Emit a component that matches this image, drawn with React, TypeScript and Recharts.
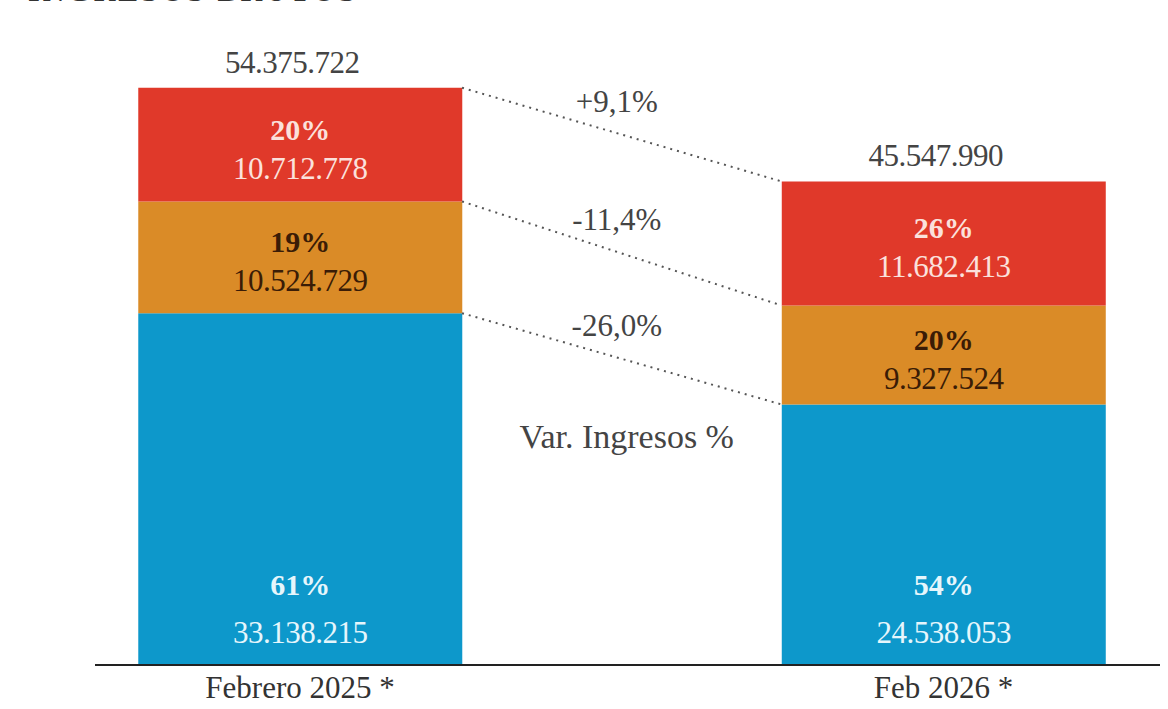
import { BarChart, Bar, XAxis, YAxis, LabelList, ReferenceLine, Label } from 'recharts';

const periods = ['Febrero 2025 *', 'Feb 2026 *'];
const blueValues = [33138215, 24538053];
const orangeValues = [10524729, 9327524];
const redValues = [10712778, 11682413];
const bluePct = [61, 54];
const orangePct = [19, 20];
const redPct = [20, 26];
const totals = [54375722, 45547990];
const variations = ['+9,1%', '-11,4%', '-26,0%'];

const RED = '#e0392a';
const ORANGE = '#da8b27';
const BLUE = '#0d98cb';
const FONT = '"Liberation Serif", serif';

const BAR_SIZE = 324;
const X_DOMAIN: [number, number] = [-0.3186, 1.3364];
// half a bar, in x-axis units (plot is 1065px wide)
const HALF = (BAR_SIZE / 2) * ((X_DOMAIN[1] - X_DOMAIN[0]) / 1065);

const fmt = (n: number) => String(n).replace(/\B(?=(\d{3})+(?!\d))/g, '.');

const chartData = periods.map((p, i) => ({
  idx: i,
  name: p,
  blue: blueValues[i],
  orange: orangeValues[i],
  red: redValues[i],
}));

// boundaries between segments, top to bottom: red top, orange top, blue top
const boundaries = [
  totals,
  blueValues.map((b, i) => b + orangeValues[i]),
  blueValues,
];

const segLabel = (pcts: number[], vals: number[], color: string, atBottom: boolean) =>
  (props: any) => {
    const { x, y, width, height, index } = props;
    const cx = Number(x) + Number(width) / 2;
    let py: number;
    let vy: number;
    if (atBottom) {
      const bottom = Number(y) + Number(height);
      py = bottom - 70;
      vy = bottom - 22;
    } else {
      const c = Number(y) + Number(height) / 2;
      py = c - 5;
      vy = c + 34;
    }
    return (
      <g>
        <text x={cx} y={py} textAnchor="middle" fontFamily={FONT} fontSize={30} fontWeight="bold" fill={color}>
          {pcts[index]}%
        </text>
        <text x={cx} y={vy} textAnchor="middle" fontFamily={FONT} fontSize={31} fill={color} letterSpacing={-0.5}>
          {fmt(vals[index])}
        </text>
      </g>
    );
  };

const totalLabel = (props: any) => {
  const { x, y, width, index } = props;
  return (
    <text x={Number(x) + Number(width) / 2 - 8} y={Number(y) - 15} textAnchor="middle" fontFamily={FONT} fontSize={31} fill="#444" letterSpacing={-0.5}>
      {fmt(totals[index])}
    </text>
  );
};

const varLabel = (text: string) => (props: any) => {
  const vb = props.viewBox;
  return (
    <text x={vb.x + vb.width / 2 - 5} y={vb.y + vb.height / 2 - 23} textAnchor="middle" fontFamily={FONT} fontSize={31} fill="#444">
      {text}
    </text>
  );
};

const noteLabel = (props: any) => {
  const vb = props.viewBox;
  return (
    <text x={vb.x + vb.width / 2 + 5} y={vb.y + vb.height / 2 + 89} textAnchor="middle" fontFamily={FONT} fontSize={34} fill="#444">
      Var. Ingresos %
    </text>
  );
};

export default function App() {
  return (
    <div style={{ position: 'fixed', top: 0, left: 0, width: 1168, height: 709, background: '#fff', overflow: 'hidden' }}>
      <div style={{ position: 'absolute', top: -26, left: 28, fontFamily: FONT, fontWeight: 'bold', fontSize: 30, color: '#333', letterSpacing: 3 }}>
        INGRESOS BRUTOS
      </div>
      <BarChart width={1168} height={709} data={chartData} margin={{ top: 28, right: 8, bottom: 0, left: 95 }}>
        <YAxis hide domain={[0, 60000000]} />
        <XAxis
          dataKey="idx"
          type="number"
          domain={X_DOMAIN}
          allowDataOverflow
          ticks={[0, 1]}
          tickFormatter={(v: number) => periods[v]}
          height={44}
          tickLine={false}
          tickMargin={5}
          axisLine={{ stroke: '#222', strokeWidth: 2 }}
          tick={{ fill: '#333', fontSize: 31, fontFamily: FONT }}
        />
        <Bar dataKey="blue" stackId="a" fill={BLUE} barSize={BAR_SIZE} isAnimationActive={false}>
          <LabelList dataKey="blue" content={segLabel(bluePct, blueValues, '#e6f6fc', true)} />
        </Bar>
        <Bar dataKey="orange" stackId="a" fill={ORANGE} barSize={BAR_SIZE} isAnimationActive={false}>
          <LabelList dataKey="orange" content={segLabel(orangePct, orangeValues, '#3a1c06', false)} />
        </Bar>
        <Bar dataKey="red" stackId="a" fill={RED} barSize={BAR_SIZE} isAnimationActive={false}>
          <LabelList dataKey="red" content={segLabel(redPct, redValues, '#fbe1dc', false)} />
          <LabelList dataKey="red" content={totalLabel} />
        </Bar>
        {boundaries.map((b, i) => (
          <ReferenceLine
            key={i}
            segment={[{ x: HALF, y: b[0] }, { x: 1 - HALF, y: b[1] }]}
            stroke="#555"
            strokeWidth={2}
            strokeDasharray="2 5"
          >
            <Label content={varLabel(variations[i])} />
            {i === 2 ? <Label content={noteLabel} /> : null}
          </ReferenceLine>
        ))}
      </BarChart>
    </div>
  );
}
